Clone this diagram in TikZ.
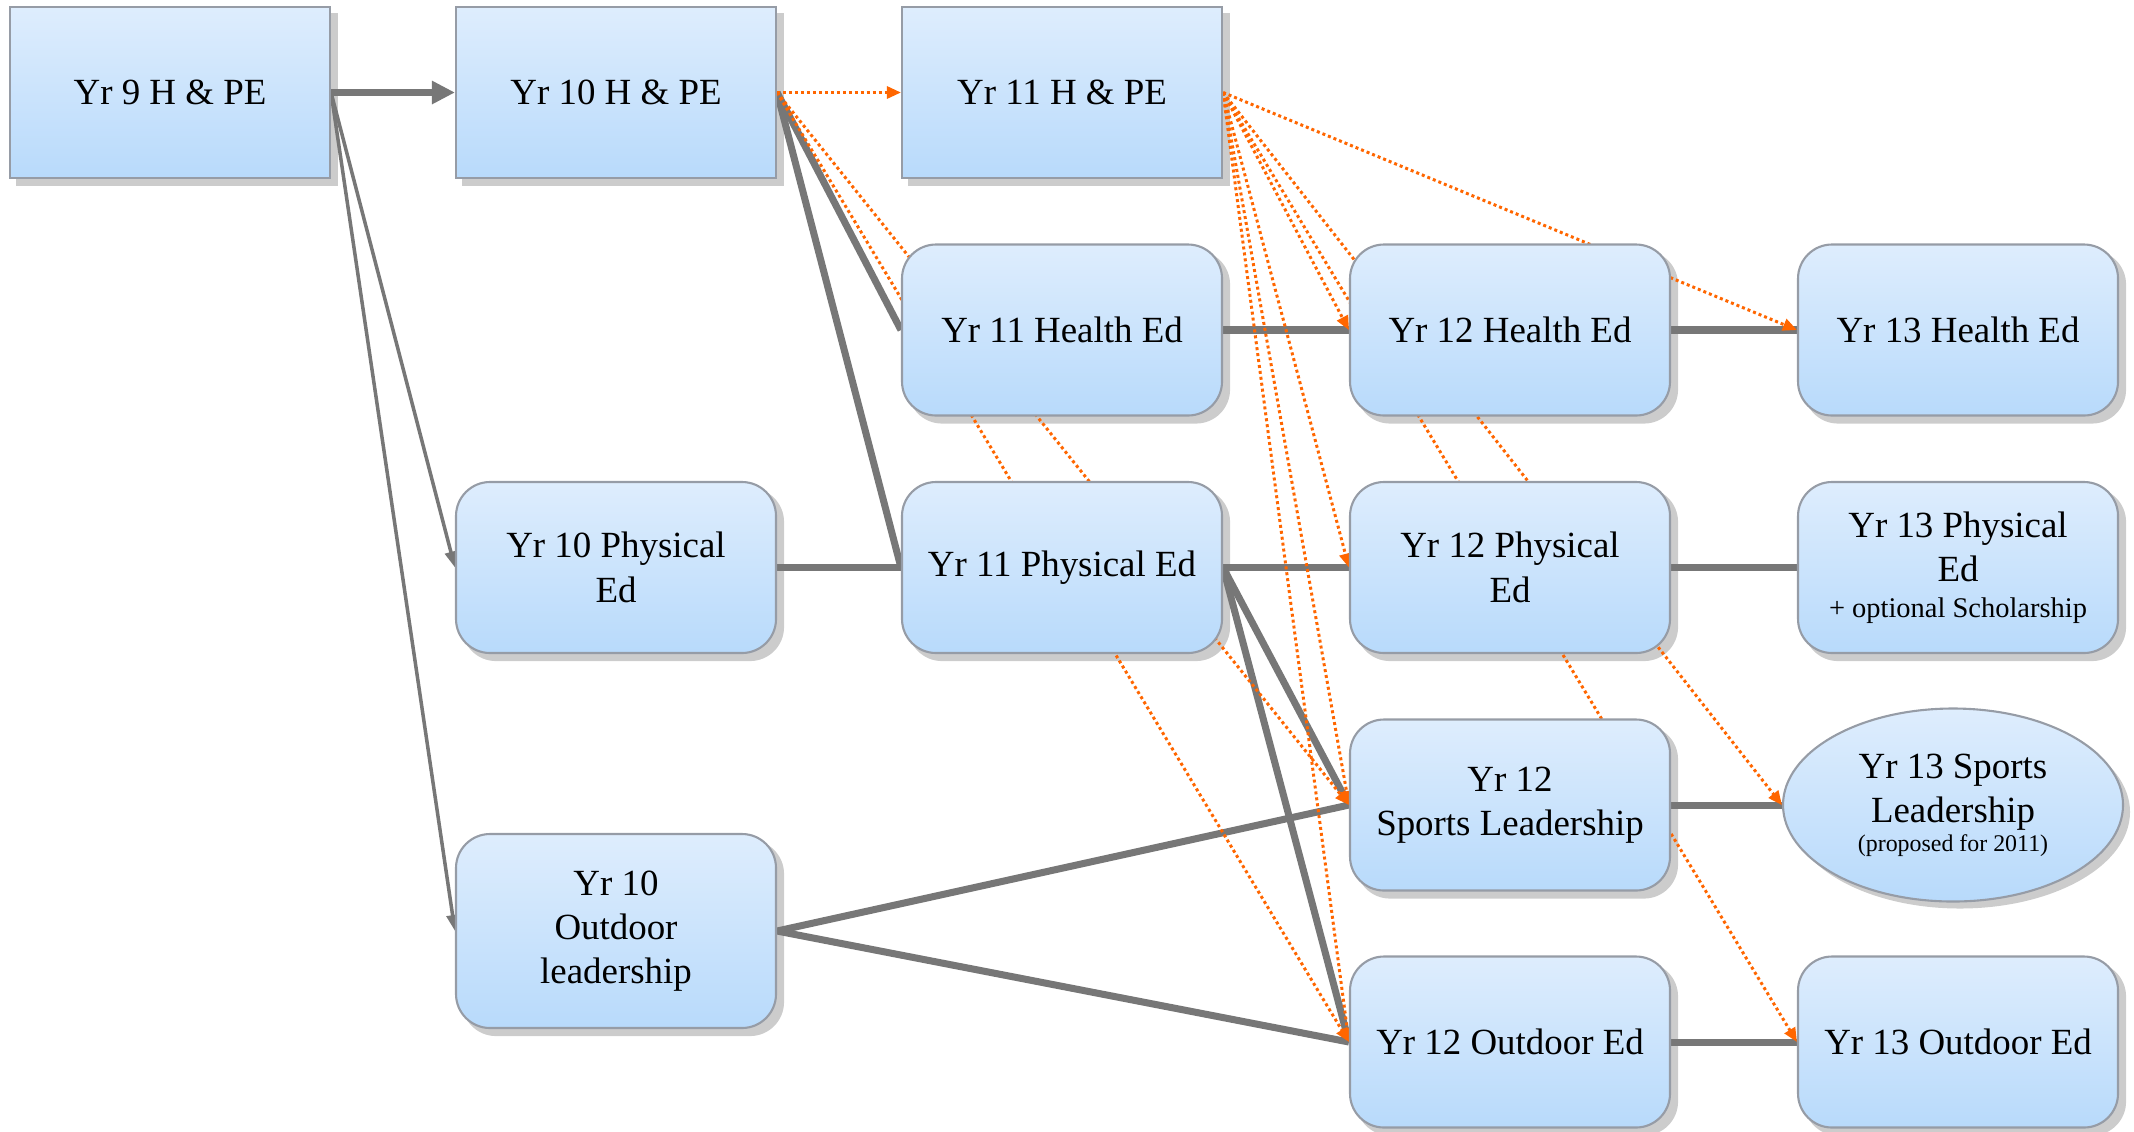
\documentclass[tikz,border=0pt]{standalone}
\usepackage{fontspec}
\setmainfont{Liberation Serif}
\usetikzlibrary{shapes.geometric}
\usetikzlibrary{backgrounds}
\usetikzlibrary{arrows.meta}
\definecolor{boxtop}{RGB}{222,237,253}
\definecolor{boxbot}{RGB}{184,218,251}
\definecolor{boxline}{RGB}{150,156,166}
\definecolor{shadowgray}{RGB}{204,204,204}
\definecolor{linegray}{RGB}{119,119,119}
\definecolor{dotorange}{RGB}{255,102,0}

\begin{document}
\begin{tikzpicture}[every node/.style={font=\fontsize{10.5}{12.6}\selectfont, align=center},
  sqbox/.style={draw=boxline, line width=0.6pt, top color=boxtop, bottom color=boxbot, minimum width=3.2cm, minimum height=1.71cm, inner sep=0pt},
  rndbox/.style={sqbox, rounded corners=0.34cm},
  ovalbox/.style={sqbox, ellipse, minimum width=3.4cm, minimum height=1.93cm},
  thickline/.style={draw=linegray, line width=2pt},
  thinarrow/.style={draw=linegray, line width=1pt, -{Triangle[length=0.16cm,width=0.12cm]}},
  dotarrow/.style={draw=dotorange, line width=0.85pt, dash pattern=on 0.85pt off 0.85pt, -{Triangle[length=0.14cm,width=0.12cm]}}]
\useasboundingbox (0,0) rectangle (21.34,-11.31);

% year 9 and 10
\node (h9) at (1.70,-0.925) [sqbox] {Yr 9 H \& PE};
\node (h10) at (6.16,-0.925) [sqbox] {Yr 10 H \& PE};
\node (pe10) at (6.16,-5.675) [rndbox] {Yr 10 Physical\\Ed};
\node (od10) at (6.16,-9.31) [rndbox, minimum height=1.94cm] {Yr 10\\Outdoor\\leadership};

% year 11
\node (h11) at (10.62,-0.925) [sqbox] {Yr 11 H \& PE};
\node (he11) at (10.62,-3.30) [rndbox] {Yr 11 Health Ed};
\node (pe11) at (10.62,-5.675) [rndbox] {Yr 11 Physical Ed};

% year 12
\node (he12) at (15.10,-3.30) [rndbox] {Yr 12 Health Ed};
\node (pe12) at (15.10,-5.675) [rndbox] {Yr 12 Physical\\Ed};
\node (sl12) at (15.10,-8.05) [rndbox] {Yr 12\\Sports Leadership};
\node (od12) at (15.10,-10.42) [rndbox] {Yr 12 Outdoor Ed};

% year 13
\node (he13) at (19.58,-3.30) [rndbox] {Yr 13 Health Ed};
\node (pe13) at (19.58,-5.675) [rndbox] {Yr 13 Physical\\Ed\\[-2.5pt]{\fontsize{8.1}{9.7}\selectfont + optional Scholarship}};
\node (sl13) at (19.53,-8.05) [ovalbox] {Yr 13 Sports\\Leadership\\[-4.5pt]{\fontsize{6.8}{8.2}\selectfont (proposed for 2011)}};
\node (od13) at (19.58,-10.42) [rndbox] {Yr 13 Outdoor Ed};

\begin{pgfonlayer}{background}
% shadows
\foreach \n in {h9, h10, h11} {
\fill[shadowgray] ([shift={(0.07,-0.07)}]\n.south west) rectangle ([shift={(0.07,-0.07)}]\n.north east);
}
\foreach \n in {pe10, od10, he11, pe11, he12, pe12, sl12, od12, he13, pe13, od13} {
\fill[shadowgray, rounded corners=0.34cm] ([shift={(0.07,-0.07)}]\n.south west) rectangle ([shift={(0.07,-0.07)}]\n.north east);
}
\fill[shadowgray] ([shift={(0.07,-0.07)}]sl13.center) ellipse [x radius=1.7cm, y radius=0.965cm];

\draw[thickline, -{Triangle[length=0.23cm,width=0.22cm]}] (h9.east) -- (h10.west);
\draw[thinarrow] (h9.east) -- (pe10.west);
\draw[thinarrow] (h9.east) -- (od10.west);
\foreach \t in {he11, pe11} {
\draw[thickline] (h10.east) -- (\t.west);
}
\draw[thickline] (pe10.east) -- (pe11.west);
\draw[thickline] (he11.east) -- (he12.west);
\foreach \t in {pe12, sl12, od12} {
\draw[thickline] (pe11.east) -- (\t.west);
}
\foreach \t in {sl12, od12} {
\draw[thickline] (od10.east) -- (\t.west);
}
\draw[thickline] (he12.east) -- (he13.west);
\draw[thickline] (pe12.east) -- (pe13.west);
\draw[thickline] (sl12.east) -- (sl13.west);
\draw[thickline] (od12.east) -- (od13.west);

% optional routes
\foreach \t in {h11, sl12, od12} {
\draw[dotarrow] (h10.east) -- (\t.west);
}
\foreach \t in {he12, pe12, sl12, od12, he13, sl13, od13} {
\draw[dotarrow] (h11.east) -- (\t.west);
}
\end{pgfonlayer}
\end{tikzpicture}
\end{document}
